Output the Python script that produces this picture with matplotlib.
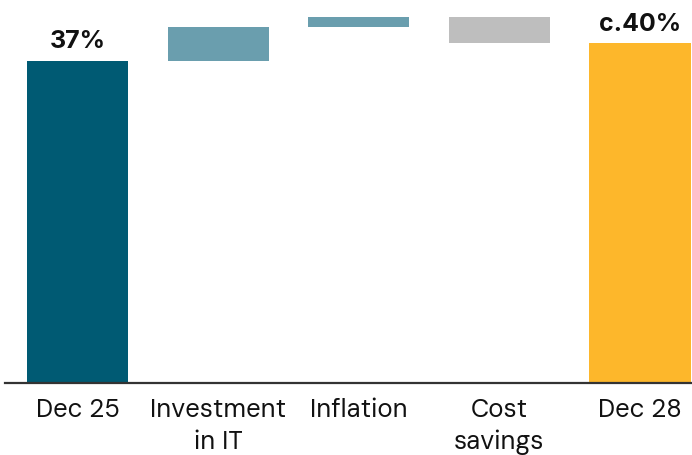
import matplotlib
matplotlib.use("Agg")
import matplotlib.pyplot as plt
import numpy as np

categories = ["Dec 25", "Investment\nin IT", "Inflation", "Cost\nsavings", "Dec 28"]
steps = [37.0, 3.9, 1.1, -3.0, 39.0]   # totals for first/last, deltas in between
kinds = ["total", "delta", "delta", "delta", "total"]
bar_labels = ["37%", "", "", "", "c.40%"]
colors = ["#005A73", "#6A9EAE", "#6A9EAE", "#BEBEBE", "#FDB72B"]

FONT = ["DM Sans", "DejaVu Sans"]
BOLD_FONT = ["Inter", "DejaVu Sans"]

fig = plt.figure(figsize=(6.92, 4.55), dpi=100)
ax = fig.add_axes([5/692, (455-382.5)/455, 687/692, 382.5/455])

running = 0.0
x = np.arange(len(categories))
for i, (v, k) in enumerate(zip(steps, kinds)):
    if k == "total":
        bottom, height = 0, v
        running = v
    else:
        bottom = running if v >= 0 else running + v
        height = abs(v)
        running += v
    ax.bar(x[i], height, bottom=bottom, width=0.72, color=colors[i], linewidth=0, zorder=2)
    if bar_labels[i]:
        ax.text(x[i], bottom + height + 0.85, bar_labels[i], ha="center", va="bottom",
                fontsize=18, fontweight="bold", family=BOLD_FONT, color="#111111")

ax.set_xlim(-0.516, 4.37)
ax.set_ylim(0, 44.0)
ax.set_xticks(x)
ax.set_xticklabels(categories, fontsize=18.5, family=FONT, linespacing=1.36, color="#111111")
ax.tick_params(axis="x", length=0, pad=11)
ax.set_yticks([])
for s in ["top", "right", "left"]:
    ax.spines[s].set_visible(False)
ax.spines["bottom"].set_color("#333333")
ax.spines["bottom"].set_linewidth(1.6)

fig.savefig("out.png", dpi=100)
